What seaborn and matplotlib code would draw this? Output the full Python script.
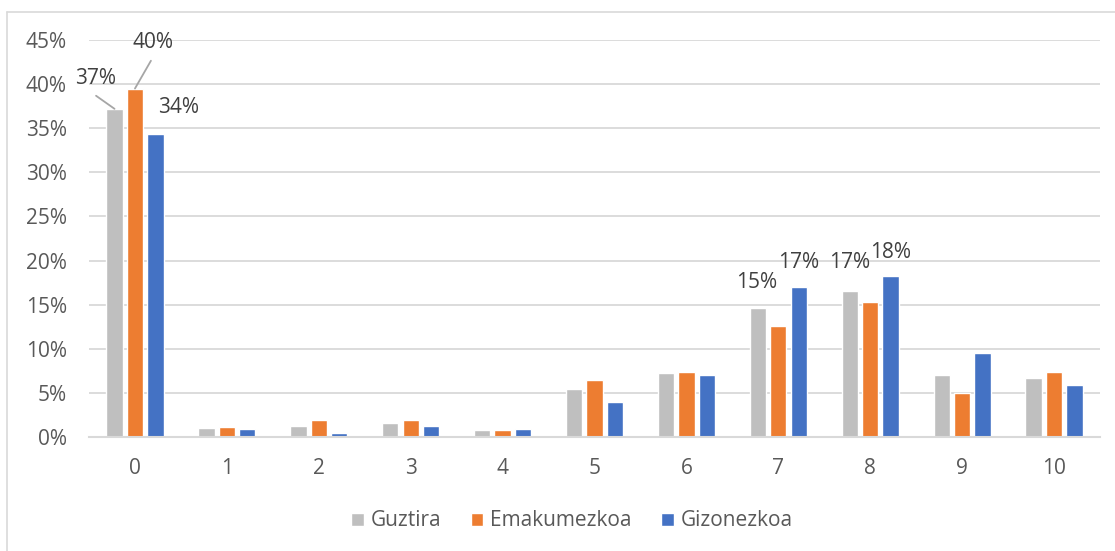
import matplotlib
matplotlib.use("Agg")
import matplotlib.pyplot as plt
import seaborn as sns
import pandas as pd
from matplotlib.ticker import PercentFormatter, MultipleLocator
from matplotlib.lines import Line2D

categories = ["0", "1", "2", "3", "4", "5", "6", "7", "8", "9", "10"]
series_names = ["Guztira", "Emakumezkoa", "Gizonezkoa"]
guztira = [37.2, 1.0, 1.3, 1.6, 0.85, 5.4, 7.2, 14.6, 16.6, 7.0, 6.7]
emakumezkoa = [39.5, 1.1, 1.9, 1.9, 0.75, 6.5, 7.35, 12.6, 15.35, 5.0, 7.4]
gizonezkoa = [34.4, 0.9, 0.5, 1.2, 0.95, 4.0, 7.0, 17.0, 18.2, 9.5, 5.85]
colors = ["#BFBFBF", "#ED7D31", "#4472C4"]

rows = []
for name, vals in zip(series_names, [guztira, emakumezkoa, gizonezkoa]):
    for c, v in zip(categories, vals):
        rows.append({"cat": c, "series": name, "value": v / 100})
df = pd.DataFrame(rows)

sns.set_theme(style="white")
plt.rcParams["font.family"] = ["Open Sans", "DejaVu Sans"]

W, H = 1115, 551
fig = plt.figure(figsize=(W / 100, H / 100), dpi=100)
ax = fig.add_axes([89 / W, 1 - 437 / H, (1100 - 89) / W, (437 - 40) / H])

sns.barplot(data=df, x="cat", y="value", hue="series", order=categories,
            hue_order=series_names, palette=colors, width=0.667, gap=0.2,
            saturation=1, ax=ax, legend=True)

ax.set_ylim(0, 0.45)
ax.set_xlim(-0.5, 10.5)
ax.yaxis.set_major_locator(MultipleLocator(0.05))
ax.yaxis.set_major_formatter(PercentFormatter(1.0, decimals=0))
ax.grid(axis="y", color="#D9D9D9", linewidth=1.3)
ax.set_axisbelow(True)
for s in ["top", "right", "left"]:
    ax.spines[s].set_visible(False)
ax.spines["bottom"].set_color("#D9D9D9")
ax.spines["bottom"].set_linewidth(1.5)
ax.tick_params(axis="y", length=0, labelsize=15, labelcolor="#595959", pad=16)
ax.tick_params(axis="x", length=0, labelsize=15, labelcolor="#595959", pad=15)
ax.set_xlabel("")
ax.set_ylabel("")

# data labels
conts = ax.containers
def bar_top(series_idx, cat_idx):
    p = conts[series_idx].patches[cat_idx]
    return p.get_x() + p.get_width() / 2, p.get_height()

lab_kw = dict(fontsize=15, color="#404040", ha="center", va="center",
              textcoords="offset points")
line_kw = dict(arrowstyle="-", color="#A6A6A6", lw=1.3, shrinkA=0, shrinkB=0)

x, y = bar_top(0, 0)
ax.annotate(f"{round(guztira[0])}%", xy=(x, y), xytext=(-14, 21.6), **lab_kw)
ax.annotate("", xy=(x, y), xytext=(-13.3, 9.4), textcoords="offset points",
            arrowprops=line_kw)
x, y = bar_top(1, 0)
ax.annotate(f"{round(emakumezkoa[0])}%", xy=(x, y), xytext=(13, 33), **lab_kw)
ax.annotate("", xy=(x, y), xytext=(11.5, 20), textcoords="offset points",
            arrowprops=line_kw)
x, y = bar_top(2, 0)
ax.annotate(f"{round(gizonezkoa[0])}%", xy=(x, y), xytext=(16.5, 18.7), **lab_kw)

x, y = bar_top(0, 7)
ax.annotate(f"{round(guztira[7])}%", xy=(x, y), xytext=(-0.7, 18.7), **lab_kw)
x, y = bar_top(2, 7)
ax.annotate(f"{round(gizonezkoa[7])}%", xy=(x, y), xytext=(0, 18), **lab_kw)
x, y = bar_top(0, 8)
ax.annotate(f"{round(guztira[8])}%", xy=(x, y), xytext=(0, 20), **lab_kw)
x, y = bar_top(2, 8)
ax.annotate(f"{round(gizonezkoa[8])}%", xy=(x, y), xytext=(0, 17), **lab_kw)

leg = ax.legend(loc="center", bbox_to_anchor=(572 / W, 1 - 521 / H),
                bbox_transform=fig.transFigure, ncol=3,
                frameon=False, fontsize=15, handlelength=0.6, handleheight=0.6,
                handletextpad=0.35, columnspacing=1.4)
for t in leg.get_texts():
    t.set_color("#595959")

# chart frame (left and top edges visible)
fig.lines.append(Line2D([7 / W, 7 / W], [0, 1 - 12 / H], transform=fig.transFigure,
                        color="#D9D9D9", lw=1.2))
fig.lines.append(Line2D([7 / W, 1], [1 - 12 / H, 1 - 12 / H], transform=fig.transFigure,
                        color="#D9D9D9", lw=1.2))

fig.savefig("out.png", dpi=100)
